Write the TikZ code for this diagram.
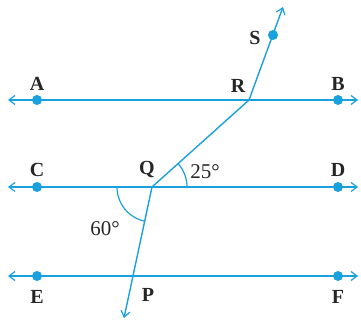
\documentclass[tikz,border=0pt]{standalone}
\usepackage{fontspec}
\setmainfont{Liberation Serif}
\usetikzlibrary{arrows.meta}
\definecolor{lc}{RGB}{27,160,222}
\begin{document}
\begin{tikzpicture}[x=1pt,y=-1pt,
  ln/.style={draw=lc,line width=1.4pt},
  arr/.style={ln,{Straight Barb[length=6pt,width=9pt,line width=1.2pt]}-{Straight Barb[length=6pt,width=9pt,line width=1.2pt]}},
  dot/.style={circle,fill=lc,inner sep=0pt,minimum size=10pt},
  lab/.style={font=\bfseries\fontsize{20}{21}\selectfont,text=black!85,inner sep=0pt},
  num/.style={font=\fontsize{21}{22}\selectfont,text=black!85,inner sep=0pt},
  ang/.style={draw=lc,line width=1.2pt}]
\useasboundingbox (0,0) rectangle (361,320);
% points
\coordinate (L1) at (8,100); \coordinate (R1) at (358,100);
\coordinate (L2) at (8,187); \coordinate (R2) at (358,187);
\coordinate (L3) at (8,276); \coordinate (R3) at (358,276);
\coordinate (R) at (249,100);
\coordinate (Q) at (152,187);
\coordinate (P) at (134,276);
\coordinate (S) at (273,35);
\coordinate (Stip) at (283,7);
\coordinate (Ptip) at (124,318);
% lines
\draw[arr] (L1) -- (R1);
\draw[arr] (L2) -- (R2);
\draw[arr] (L3) -- (R3);
\draw[ln,-{Straight Barb[length=6pt,width=9pt,line width=1.2pt]}] (R) -- (Stip);
\draw[ln] (R) -- (Q);
\draw[ln,-{Straight Barb[length=6pt,width=9pt,line width=1.2pt]}] (Q) -- (Ptip);
% angle arcs
\draw[ang] (Q) ++(35,0) arc[start angle=0,end angle=-41.9,radius=35];
\draw[ang] (Q) ++(-35,0) arc[start angle=180,end angle=101.4,radius=35];
% dots
\node[dot] (A) at (37,100) {};
\node[dot] (B) at (338,100) {};
\node[dot] (C) at (37,187) {};
\node[dot] (D) at (338,187) {};
\node[dot] (E) at (37,276) {};
\node[dot] (F) at (338,276) {};
\node[dot] (Sd) at (S) {};
% labels
\node[lab] (lA) at (37,84) {A};
\node[lab] (lB) at (338,84) {B};
\node[lab] (lR) at (238,86) {R};
\node[lab] (lS) at (255,38) {S};
\node[lab] (lC) at (37,170) {C};
\node[lab] (lD) at (338,170) {D};
\node[lab] (lQ) at (147,170) {Q};
\node[num] (l25) at (205,172) {25°};
\node[num] (l60) at (105,229) {60°};
\node[lab] (lE) at (37,297) {E};
\node[lab] (lF) at (338,297) {F};
\node[lab] (lP) at (148,295) {P};
\end{tikzpicture}
\end{document}
